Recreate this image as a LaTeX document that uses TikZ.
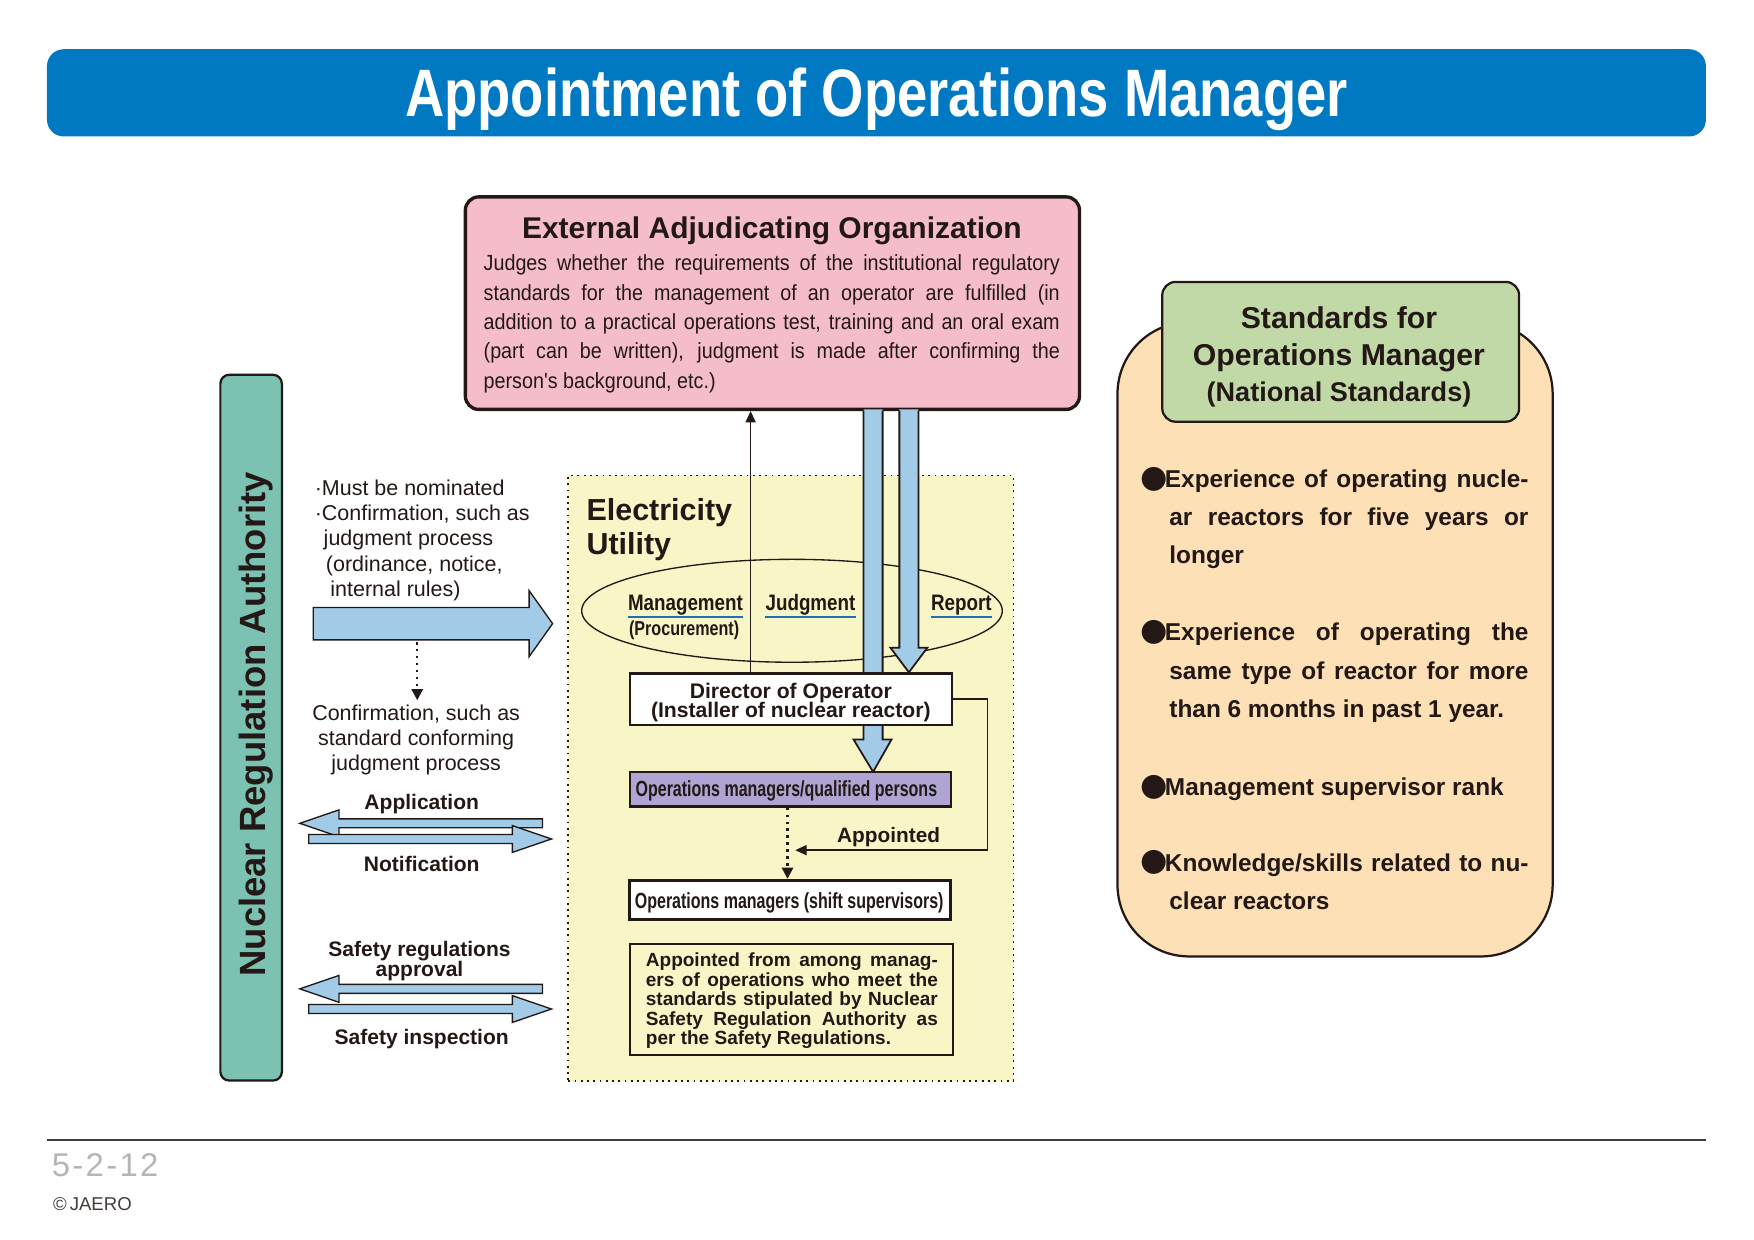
\documentclass[tikz,border=0pt]{standalone}
\usepackage{fontspec}
\setmainfont{Liberation Sans}
\newfontfamily\titlef[FakeStretch=0.81]{Liberation Sans}
\newfontfamily\bodyf[FakeStretch=0.90]{Liberation Sans}
\newfontfamily\condf[FakeStretch=0.84]{Liberation Sans}
\newfontfamily\narrowf[FakeStretch=0.73]{Liberation Sans}
\newfontfamily\procf[FakeStretch=0.80]{Liberation Sans}
\newfontfamily\dotf{DejaVu Sans}
\newfontfamily\pagef[LetterSpace=7]{Liberation Sans}
\newcommand\tightlines{\lineskiplimit=-20pt\relax}
\usetikzlibrary{arrows.meta,fit,shapes.geometric}
\definecolor{inkc}{HTML}{231815}
\definecolor{titleblue}{HTML}{0079C2}
\definecolor{pinkc}{HTML}{F5BDC9}
\definecolor{tealc}{HTML}{7BC2B2}
\definecolor{yellowc}{HTML}{F8F6C6}
\definecolor{arrowc}{HTML}{A2CBE7}
\definecolor{lavc}{HTML}{AEA5D2}
\definecolor{peachc}{HTML}{FDE0B6}
\definecolor{greenc}{HTML}{C1D9A7}
\definecolor{ulc}{HTML}{1F6FB5}
\definecolor{footgray}{HTML}{B5B5B5}
\begin{document}
\begin{tikzpicture}[x=0.5pt,y=-0.5pt,
  lbl/.style={inner sep=0, text=inkc},
  boxf/.style={inner sep=0, draw=inkc, line width=1pt},
  thinarrow/.style={draw=inkc, line width=0.6pt, -{Triangle[length=5pt,width=4.5pt]}},
  dotarrow/.style={draw=inkc, line width=1.1pt, dotted, -{Triangle[length=5pt,width=5pt]}},
  broad/.style={fill=arrowc, draw=inkc, line width=0.6pt},
  ulline/.style={draw=ulc, line width=1pt},
  boldlbl/.style={lbl, font=\bfseries\fontsize{9.4}{9}\selectfont\tightlines},
  bullettxt/.style={lbl, anchor=base west, align=left, font=\bfseries\fontsize{10.9}{17}\selectfont},
  bulletdot/.style={lbl, anchor=base west, font=\dotf\fontsize{14}{14}\selectfont}
]
\useasboundingbox (0,0) rectangle (1568,1108.5);

% ---------- title ----------
\node[fit={(42,44)(1525,122)}, inner sep=0, fill=titleblue, rounded corners=7.5pt] (titlebar) {};
\node[lbl, anchor=base, text=white, font=\titlef\bfseries\fontsize{30}{34}\selectfont] (title) at (783.5,104) {Appointment of Operations Manager};

% ---------- Nuclear Regulation Authority ----------
\node[fit={(197,335)(252,966)}, boxf, fill=tealc, rounded corners=4pt] (nra) {};
\node[lbl, rotate=90, anchor=base, font=\bfseries\fontsize{16.3}{20}\selectfont] (nratext) at (237,647.5) {Nuclear Regulation Authority};

% ---------- Electricity Utility ----------
\node[fit={(508,425)(906,966)}, inner sep=0, fill=yellowc, draw=inkc, dotted, line width=0.8pt] (eu) {};
\node[lbl, anchor=base west, align=left, font=\bfseries\fontsize{13.6}{15.5}\selectfont] (eutext) at (524,496) {Electricity\\Utility};

\node[draw=inkc, line width=0.6pt, ellipse, minimum width=188pt, minimum height=46pt, inner sep=0] (ell) at (708,546) {};
\node[lbl, anchor=base west, font=\condf\bfseries\fontsize{10}{12}\selectfont] (mgmt) at (561,546) {Management};
\node[lbl, anchor=base west, font=\procf\bfseries\fontsize{9}{11}\selectfont] (proc) at (562,568) {(Procurement)};
\node[lbl, anchor=base west, font=\condf\bfseries\fontsize{10}{12}\selectfont] (judg) at (684,546) {Judgment};
\node[lbl, anchor=base west, font=\condf\bfseries\fontsize{10}{12}\selectfont] (rep) at (832,546) {Report};
\draw[ulline] ([yshift=-0.6pt]mgmt.south west) -- ([yshift=-0.6pt]mgmt.south east);
\draw[ulline] ([yshift=-0.6pt]judg.south west) -- ([yshift=-0.6pt]judg.south east);
\draw[ulline] ([yshift=-0.6pt]rep.south west) -- ([yshift=-0.6pt]rep.south east);

% ---------- External Adjudicating Organization ----------
\node[fit={(416,176)(965,366)}, boxf, fill=pinkc, line width=1.5pt, rounded corners=6pt] (ext) {};
\node[lbl, anchor=base, font=\bfseries\fontsize{13.4}{16}\selectfont] (exttitle) at (690,213) {External Adjudicating Organization};
\node[lbl, anchor=base west, align=left, font=\bodyf\fontsize{9.8}{13.15}\selectfont] (extbody) at (432,347.2) {%
\makebox[257.5pt][s]{Judges whether the requirements of the institutional regulatory}\\
\makebox[257.5pt][s]{standards for the management of an operator are fulfilled (in}\\
\makebox[257.5pt][s]{addition to a practical operations test, training and an oral exam}\\
\makebox[257.5pt][s]{(part can be written), judgment is made after confirming the}\\
person's background, etc.)};

% ---------- broad blue arrows from the organization ----------
\fill[arrowc] (772,366) -- (772,661) -- (763,661) -- (780.5,690) -- (797,661) -- (789,661) -- (789,366) -- cycle;
\draw[draw=inkc, line width=0.8pt] (772,367) -- (772,661) -- (763,661) -- (780.5,690) -- (797,661) -- (789,661) -- (789,367);
\fill[arrowc] (804,366) -- (804,579) -- (796,579) -- (812.5,601) -- (829,579) -- (821,579) -- (821,366) -- cycle;
\draw[draw=inkc, line width=0.8pt] (804,367) -- (804,579) -- (796,579) -- (812.5,601) -- (829,579) -- (821,579) -- (821,367);

% ---------- director ----------
\node[fit={(563,602)(851,648)}, boxf, fill=white] (dir) {};
\node[lbl, anchor=base, align=center, font=\bfseries\fontsize{9.45}{8.6}\selectfont\tightlines] (dirtext) at (707,641.2) {Director of Operator\\(Installer of nuclear reactor)};

\coordinate (upx) at (671,0);
\draw[thinarrow] (dir.north -| upx) -- (ext.south -| upx);

% ---------- operations managers ----------
\node[fit={(563,690)(850,721)}, boxf, fill=lavc] (opq) {};
\node[lbl, anchor=base, font=\narrowf\bfseries\fontsize{9.8}{12}\selectfont] (opqtext) at (703,712) {Operations managers/qualified persons};

\node[fit={(563,787)(850,822)}, boxf, fill=white, line width=1.4pt] (ops) {};
\node[lbl, anchor=base, font=\narrowf\bfseries\fontsize{9.8}{12}\selectfont] (opstext) at (705.5,812) {Operations managers (shift supervisors)};

\coordinate (dotx) at (704,0);
\draw[dotarrow] (opq.south -| dotx) -- (ops.north -| dotx);

\coordinate (elbx) at (883,0);
\coordinate (apend) at (711,760);
\draw[thinarrow] (dir.east) -- (dir.east -| elbx) -- (elbx |- apend) -- (apend);
\node[lbl, anchor=base west, font=\bfseries\fontsize{9.3}{11}\selectfont] (apptext) at (748,753) {Appointed};

\node[fit={(563,844)(852,943)}, boxf] (afb) {};
\node[lbl, anchor=base west, align=left, font=\bfseries\fontsize{8.5}{8.75}\selectfont\tightlines] (afbtext) at (577,934) {%
\makebox[130.5pt][s]{Appointed from among manag-}\\
\makebox[130.5pt][s]{ers of operations who meet the}\\
\makebox[130.5pt][s]{standards stipulated by Nuclear}\\
\makebox[130.5pt][s]{Safety Regulation Authority as}\\
per the Safety Regulations.};

% ---------- left column ----------
\node[lbl, anchor=base west, align=left, font=\fontsize{9.6}{11.25}\selectfont] (nomtext) at (281,533) {·Must be nominated\\·Confirmation, such as\\\hspace*{4pt}judgment process\\\hspace*{5pt}(ordinance, notice,\\\hspace*{7pt}internal rules)};
\path[broad] (280,543) -- (473,543) -- (473,528) -- (494,557.5) -- (473,587) -- (473,572) -- (280,572) -- cycle;
\coordinate (ldota) at (373,574);
\coordinate (ldotb) at (373,626);
\draw[dotarrow] (ldota) -- (ldotb);
\node[lbl, anchor=base, align=center, font=\fontsize{9.6}{11.25}\selectfont] (conftext) at (372,689) {Confirmation, such as\\standard conforming\\judgment process};

\node[boldlbl, anchor=base] (appl) at (377,724) {Application};
\path[broad] (485,732) -- (303,732) -- (303,724) -- (268,736) -- (303,748) -- (303,740) -- (485,740) -- cycle;
\path[broad] (276,746) -- (458,746) -- (458,738) -- (493,750) -- (458,762) -- (458,754) -- (276,754) -- cycle;
\node[boldlbl, anchor=base] (notif) at (377,779) {Notification};

\node[boldlbl, anchor=base, align=center] (safreg) at (375,873) {Safety regulations\\approval};
\path[broad] (485,880) -- (303,880) -- (303,872) -- (268,884) -- (303,896) -- (303,888) -- (485,888) -- cycle;
\path[broad] (276,898) -- (458,898) -- (458,890) -- (493,902) -- (458,914) -- (458,906) -- (276,906) -- cycle;
\node[boldlbl, anchor=base] (safinsp) at (377,934) {Safety inspection};

% ---------- standards panel ----------
\node[fit={(999,288)(1388,855)}, boxf, fill=peachc, rounded corners=32pt] (stdpanel) {};
\node[fit={(1039,252)(1358,377)}, boxf, fill=greenc, rounded corners=6pt] (stdhead) {};
\node[lbl, anchor=base, font=\bfseries\fontsize{13.5}{16}\selectfont] (sh1) at (1197,294) {Standards for};
\node[lbl, anchor=base, font=\bfseries\fontsize{13.5}{16}\selectfont] (sh2) at (1197,327) {Operations Manager};
\node[lbl, anchor=base, font=\bfseries\fontsize{12.1}{15}\selectfont] (sh3) at (1197,359) {(National Standards)};

\node[bulletdot] (bd1) at (1019,436) {●};
\node[bullettxt] (bt1) at (1041,504) {%
\makebox[162.5pt][s]{Experience of operating nucle-}\\
\hspace*{2pt}\makebox[160.5pt][s]{ar reactors for five years or}\\
\hspace*{2pt}longer};
\node[bulletdot] (bd2) at (1019,573) {●};
\node[bullettxt] (bt2) at (1041,641) {%
\makebox[162.5pt][s]{Experience of operating the}\\
\hspace*{2pt}\makebox[160.5pt][s]{same type of reactor for more}\\
\hspace*{2pt}than 6 months in past 1 year.};
\node[bulletdot] (bd3) at (1019,711) {●};
\node[bullettxt] (bt3) at (1041,711) {Management supervisor rank};
\node[bulletdot] (bd4) at (1019,778) {●};
\node[bullettxt] (bt4) at (1041,813) {%
\makebox[162.5pt][s]{Knowledge/skills related to nu-}\\
\hspace*{2pt}clear reactors};

% ---------- footer ----------
\coordinate (fla) at (42,1019);
\coordinate (flb) at (1525,1019);
\draw[draw=inkc!85, line width=0.9pt] (fla) -- (flb);
\node[lbl, anchor=base west, text=footgray, font=\pagef\fontsize{14.7}{16}\selectfont] (pagenum) at (46,1052) {5-2-12};
\node[lbl, anchor=base west, text=inkc!85, font=\fontsize{8.3}{10}\selectfont] (copyr) at (47,1082) {©\,JAERO};
\end{tikzpicture}
\end{document}
